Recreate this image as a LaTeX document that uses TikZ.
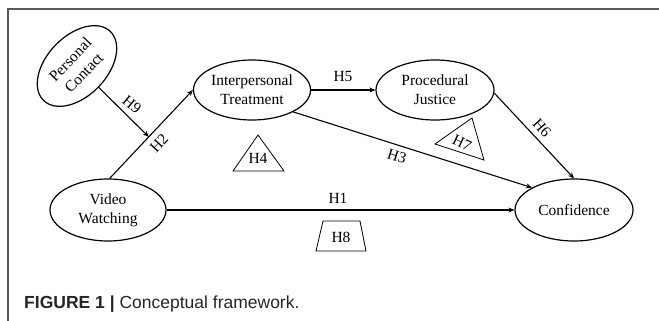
\documentclass[tikz,border=0pt]{standalone}
\usepackage{fontspec}
\setmainfont{Liberation Serif}
\newfontfamily\capfont{Liberation Sans}
\usetikzlibrary{shapes.geometric,arrows.meta,calc}
\begin{document}
\begin{tikzpicture}[x=1pt,y=-1pt,
  var/.style={ellipse,draw,line width=1.2pt,inner sep=0pt,align=center,
    font=\fontsize{15.5}{19}\selectfont},
  arr/.style={line width=1.1pt,-{Stealth[length=6pt,width=5pt]}},
  lbl/.style={font=\fontsize{15.5}{19}\selectfont,inner sep=0pt},
  hyp/.style={draw,line width=0.8pt,line join=miter}
]
\useasboundingbox (0,0) rectangle (659,321);
% frame
\draw[black!65,line width=1.3pt] (8,321) -- (8,9) -- (659,9);

% variables
\node[var,rotate=46,minimum width=96,minimum height=60] (pc) at (77,66) {Personal\\Contact};
\node[var,minimum width=117,minimum height=60] (it) at (252,90) {Interpersonal\\Treatment};
\node[var,minimum width=118,minimum height=60] (pj) at (435,90) {Procedural\\Justice};
\node[var,minimum width=116,minimum height=62] (vw) at (108,210) {Video\\Watching};
\node[var,minimum width=118,minimum height=62] (cf) at (574,210) {Confidence};

% connectors
\draw[arr] (vw.87) -- (it.west);
\coordinate (m) at ($(vw.87)!0.47!(it.west)$);
\draw[arr] (pc) -- (m);
\draw[arr] (it.east) -- (pj.west);
\draw[arr] (it.-28) -- (cf.152);
\draw[arr] (pj.-3) -- (cf.north);
\draw[arr] (vw.east) -- (cf.west);

% path labels
\node[lbl,rotate=-40] (h9) at (132,105) {H9};
\node[lbl,rotate=47] (h2) at (159,143) {H2};
\node[lbl] (h5) at (343,77) {H5};
\node[lbl,rotate=-17] (h3) at (397,156) {H3};
\node[lbl,rotate=-48] (h6) at (542,128) {H6};
\node[lbl] (h1) at (338,198) {H1};

% moderator shapes
\draw[hyp] (258,135) -- (233,171) -- (284,171) -- cycle;
\node[lbl] (h4) at (258,158) {H4};
\draw[hyp] (435,144) -- (472,118) -- (484,160) -- cycle;
\node[lbl,rotate=-25] (h7) at (462,143) {H7};
\draw[hyp] (323,221) -- (360,221) -- (366,251) -- (316,251) -- cycle;
\node[lbl] (h8) at (341,237) {H8};

% caption
\node[anchor=base west,inner sep=0pt,text=black!85,
  font=\capfont\fontsize{17.5}{20}\selectfont] (cap) at (24,308)
  {\textbf{FIGURE 1 |} Conceptual framework.};
\end{tikzpicture}
\end{document}
